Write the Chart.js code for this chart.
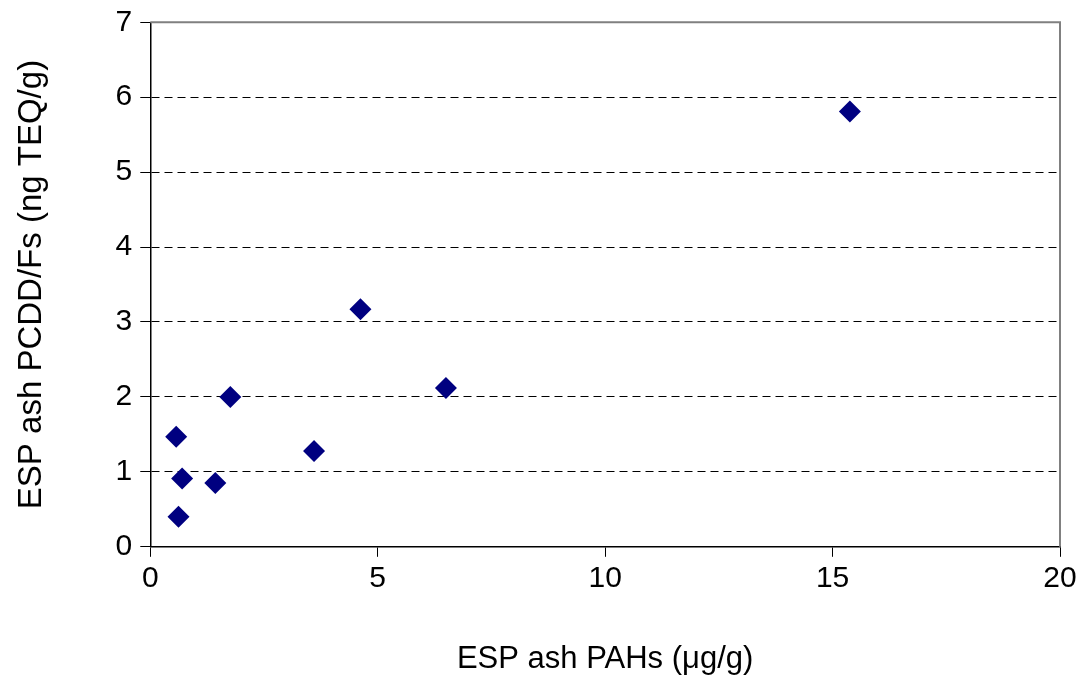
<!DOCTYPE html>
<html>
<head>
<meta charset="utf-8">
<script src="https://cdn.jsdelivr.net/npm/chart.js@4/dist/chart.umd.min.js"></script>
<style>
  html, body { margin: 0; padding: 0; background: #fff; }
  #wrap { width: 1091px; height: 682px; }
</style>
</head>
<body>
<div id="wrap"><canvas id="grafico" width="1091" height="682"></canvas></div>
<script>
// valores
const pahs = [0.62, 0.57, 0.70, 1.43, 1.76, 3.60, 4.62, 6.50, 15.38];
const pcdd = [0.40, 1.47, 0.91, 0.85, 2.00, 1.28, 3.17, 2.12, 5.81];
const ticksX = [0, 5, 10, 15, 20];
const ticksY = [0, 1, 2, 3, 4, 5, 6, 7];

const puntos = pahs.map((x, i) => ({ x, y: pcdd[i] }));

// marco gris arriba y a la derecha
const marco = {
  id: 'marco',
  beforeDatasetsDraw(chart) {
    const { ctx, chartArea: a } = chart;
    ctx.save();
    ctx.strokeStyle = '#808080';
    ctx.lineWidth = 2;
    ctx.beginPath();
    ctx.moveTo(a.left, a.top);
    ctx.lineTo(a.right, a.top);
    ctx.lineTo(a.right, a.bottom);
    ctx.stroke();
    ctx.restore();
  }
};

Chart.defaults.font.family = 'Arial, "Liberation Sans", sans-serif';
Chart.defaults.color = '#000';

new Chart(document.getElementById('grafico'), {
  type: 'scatter',
  data: {
    datasets: [{
      data: puntos,
      pointStyle: 'rectRot',
      pointRadius: 11,
      pointHoverRadius: 11,
      backgroundColor: '#000080',
      borderColor: '#000080',
      borderWidth: 0
    }]
  },
  options: {
    responsive: false,
    animation: false,
    layout: { padding: { top: 0, right: 31, left: 12, bottom: 4 } },
    plugins: {
      legend: { display: false },
      tooltip: { enabled: false }
    },
    scales: {
      x: {
        type: 'linear',
        min: 0,
        max: 20,
        afterBuildTicks: s => { s.ticks = ticksX.map(v => ({ value: v })); },
        ticks: { font: { size: 30 }, padding: 4 },
        grid: { drawOnChartArea: false, tickLength: 10, color: '#000', lineWidth: 1 },
        border: { color: '#000', width: 1.5 },
        title: {
          display: true,
          text: 'ESP ash PAHs (\u03bcg/g)',
          font: { size: 31 },
          padding: { top: 40, bottom: 0 }
        }
      },
      y: {
        type: 'linear',
        min: 0,
        max: 7,
        afterBuildTicks: s => { s.ticks = ticksY.map(v => ({ value: v })); },
        ticks: { font: { size: 30, lineHeight: 0.95 }, padding: 8 },
        grid: {
          tickLength: 10,
          color: c => (c.tick && (c.tick.value === 7 || c.tick.value === 0)) ? 'rgba(0,0,0,0)' : '#000',
          tickColor: '#000',
          lineWidth: 1,
          tickBorderDash: []
        },
        border: { color: '#000', width: 1.5, dash: [8, 5] },
        title: {
          display: true,
          text: 'ESP ash PCDD/Fs (ng TEQ/g)',
          font: { size: 33 },
          padding: { top: 0, bottom: 56 }
        }
      }
    }
  },
  plugins: [marco]
});
</script>
</body>
</html>
